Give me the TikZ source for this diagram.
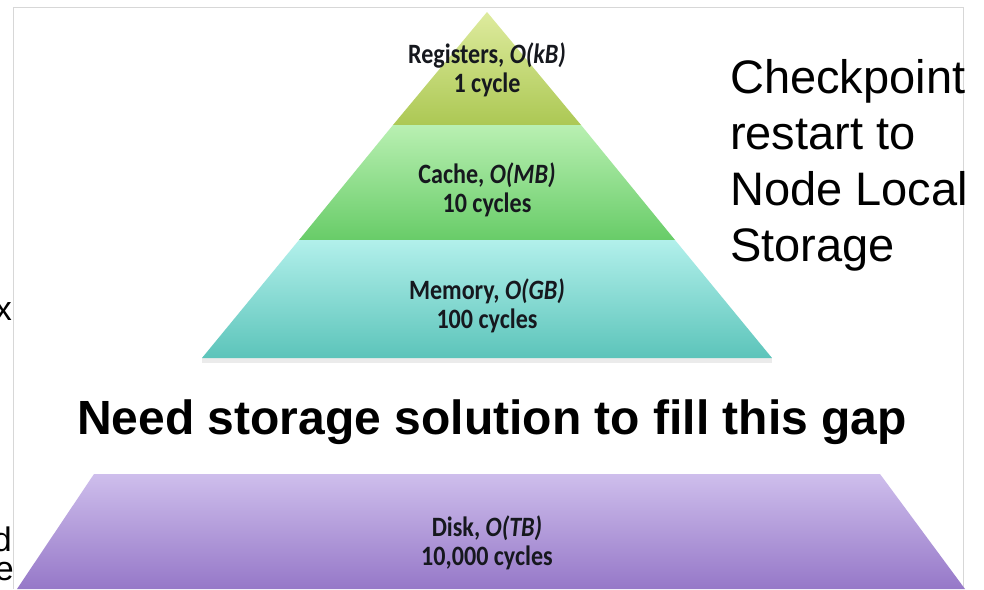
\documentclass[tikz,border=0pt]{standalone}
\usepackage{fontspec}
\setmainfont{Liberation Sans}
\newfontfamily\calibri[FakeStretch=0.86]{Carlito}
\usetikzlibrary{positioning}

\definecolor{regtop}{RGB}{222,235,158}
\definecolor{regbot}{RGB}{172,200,84}
\definecolor{cachetop}{RGB}{185,240,178}
\definecolor{cachebot}{RGB}{104,204,104}
\definecolor{memtop}{RGB}{178,240,235}
\definecolor{membot}{RGB}{92,196,186}
\definecolor{disktop}{RGB}{206,190,236}
\definecolor{diskbot}{RGB}{150,120,200}
\definecolor{levelink}{RGB}{22,24,30}
\definecolor{framegray}{RGB}{215,215,215}

\begin{document}
\begin{tikzpicture}[x=1pt,y=-1pt,
    lvl/.style={font=\calibri\bfseries\fontsize{28}{29}\selectfont,align=center,text=levelink,inner sep=0pt},
    note/.style={font=\fontsize{47}{56}\selectfont,align=left,inner sep=0pt},
    gapnote/.style={font=\bfseries\fontsize{48}{52}\selectfont,inner sep=0pt},
    cut/.style={font=\fontsize{34}{40}\selectfont,inner sep=0pt}]
    \useasboundingbox (0,0) rectangle (984,589);
    \fill[white] (0,0) rectangle (984,589);
    \draw[framegray] (13,589) -- (13,7) -- (963,7) -- (963,589);

    \coordinate (apex) at (487,12);
    \coordinate (rl) at (393,125);
    \coordinate (rr) at (581,125);
    \coordinate (cl) at (299,240);
    \coordinate (cr) at (675,240);
    \coordinate (ml) at (202,358);
    \coordinate (mr) at (772,358);
    \coordinate (dl) at (94,474);
    \coordinate (dr) at (880,474);
    \coordinate (dbr) at (965,589);
    \coordinate (dbl) at (17,589);

    \fill[black!8] ([yshift=-5pt]ml) -- ([yshift=-5pt]mr) -- (mr) -- (ml) -- cycle;
    \shade[top color=regtop,bottom color=regbot] (apex) -- (rr) -- (rl) -- cycle;
    \shade[top color=cachetop,bottom color=cachebot] (rl) -- (rr) -- (cr) -- (cl) -- cycle;
    \shade[top color=memtop,bottom color=membot] (cl) -- (cr) -- (mr) -- (ml) -- cycle;
    \shade[top color=disktop,bottom color=diskbot] (dl) -- (dr) -- (dbr) -- (dbl) -- cycle;

    \node[lvl] (regs) at (487,70) {Registers, \textit{O(kB)}\\1 cycle};
    \node[lvl] (cache) at (487,190) {Cache, \textit{O(MB)}\\10 cycles};
    \node[lvl] (mem) at (487,306) {Memory, \textit{O(GB)}\\100 cycles};
    \node[lvl] (disk) at (487,543) {Disk, \textit{O(TB)}\\10,000 cycles};

    \node[gapnote,anchor=base] (gap) at (492,434) {Need storage solution to fill this gap};
    \node[note,anchor=north west] (ckpt) at (730,59) {Checkpoint\\restart to\\Node Local\\Storage};

    \begin{scope}
        \clip (0,0) rectangle (13,589);
        \node[cut,anchor=base east] (cutx) at (12,320) {x};
        \node[cut,anchor=base east] (cutd) at (12,551) {d};
        \node[cut,anchor=base east] (cute) at (14,580) {e};
    \end{scope}
\end{tikzpicture}
\end{document}
